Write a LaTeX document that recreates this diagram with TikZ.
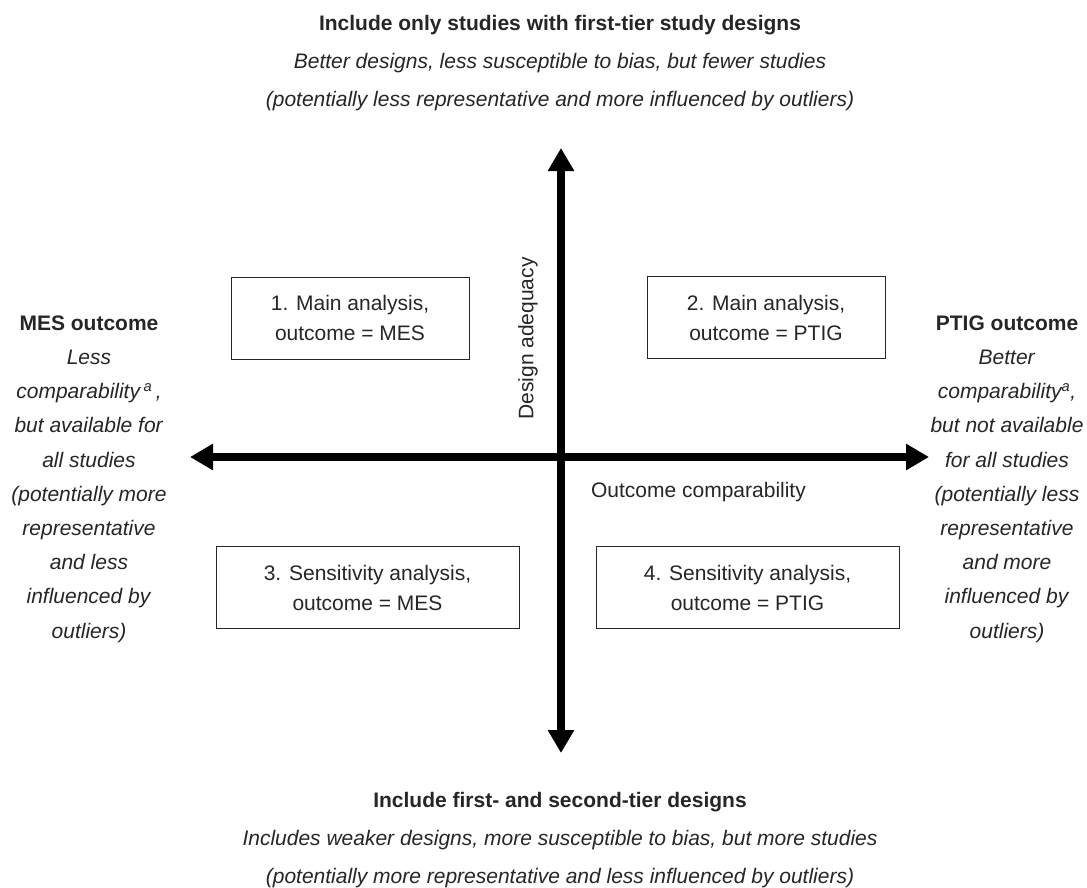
\documentclass[tikz,border=0pt]{standalone}
\usepackage{fontspec}
\setmainfont{Liberation Sans}
\usetikzlibrary{arrows.meta}
\begin{document}
\begin{tikzpicture}[x=1pt,y=-1pt,
  txt/.style={align=center,inner sep=0pt,text=black!85,font=\fontsize{21}{34.2}\selectfont},
  toptxt/.style={align=center,inner sep=0pt,text=black!85,font=\fontsize{21}{38}\selectfont},
  qbox/.style={draw=black!85,line width=1pt,align=center,inner sep=0pt,minimum height=82pt,text=black!85,font=\fontsize{21}{30}\selectfont},
  axis/.style={line width=8.5pt,{Triangle[length=23pt,width=25pt]}-{Triangle[length=23pt,width=25pt]}},
  axlabel/.style={inner sep=0pt,text=black!85,font=\fontsize{21}{24}\selectfont}]
\useasboundingbox (0,0) rectangle (1087,887);
\fill[white] (0,0) rectangle (1087,887);
% axes
\coordinate (top) at (561,148);
\coordinate (bottom) at (561,753);
\coordinate (left) at (190,457);
\coordinate (right) at (929,457);
\draw[axis] (bottom) -- (top);
\draw[axis] (left) -- (right);
% axis labels
\node[axlabel,rotate=90] (da) at (528,338.5) {Design adequacy};
\node[axlabel] (oc) at (698.5,492) {Outcome comparability};
% quadrant boxes
\node[qbox,minimum width=238pt] (b1) at (350,318) {1. Main analysis,\\outcome = MES};
\node[qbox,minimum width=238pt] (b2) at (766,317.5) {2. Main analysis,\\outcome = PTIG};
\node[qbox,minimum width=303pt] (b3) at (367.5,587.5) {3. Sensitivity analysis,\\outcome = MES};
\node[qbox,minimum width=303pt] (b4) at (747.5,587.5) {4. Sensitivity analysis,\\outcome = PTIG};
% top and bottom texts
\node[toptxt] (toptext) at (560,63) {\textbf{Include only studies with first-tier study designs}\\
  \textit{Better designs, less susceptible to bias, but fewer studies}\\
  \textit{(potentially less representative and more influenced by outliers)}};
\node[toptxt] (bottext) at (560,840) {\textbf{Include first- and second-tier designs}\\
  \textit{Includes weaker designs, more susceptible to bias, but more studies}\\
  \textit{(potentially more representative and less influenced by outliers)}};
% side texts
\node[txt] (lefttext) at (89,479) {\textbf{MES outcome}\\
  \textit{Less}\\
  \textit{comparability\,\textsuperscript{a}\,,}\\
  \textit{but available for}\\
  \textit{all studies}\\
  \textit{(potentially more}\\
  \textit{representative}\\
  \textit{and less}\\
  \textit{influenced by}\\
  \textit{outliers)}};
\node[txt] (righttext) at (1007,479) {\textbf{PTIG outcome}\\
  \textit{Better}\\
  \textit{comparability\textsuperscript{a},}\\
  \textit{but not available}\\
  \textit{for all studies}\\
  \textit{(potentially less}\\
  \textit{representative}\\
  \textit{and more}\\
  \textit{influenced by}\\
  \textit{outliers)}};
\end{tikzpicture}
\end{document}
